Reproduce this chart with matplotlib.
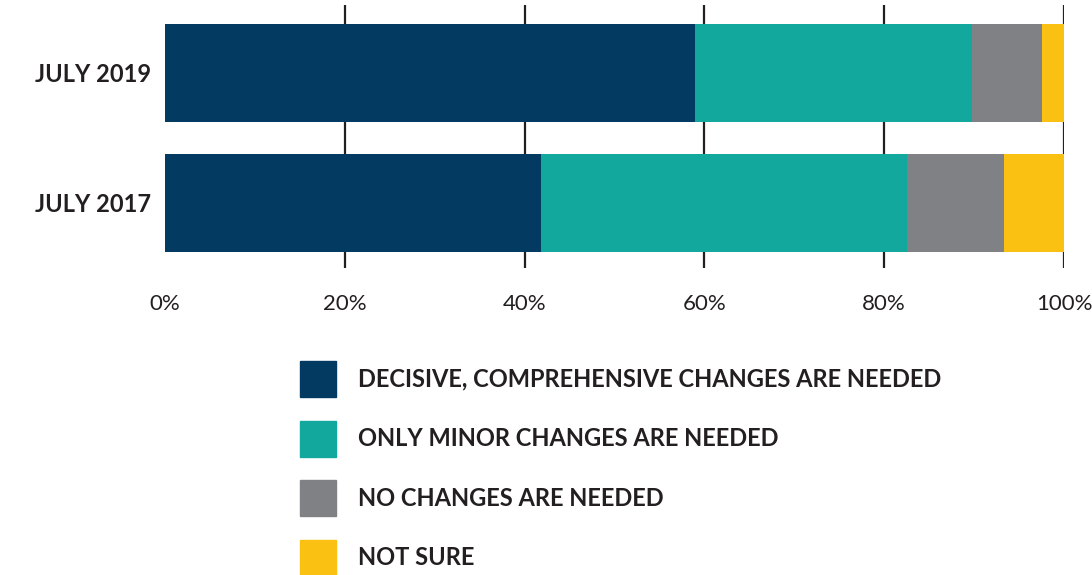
import matplotlib.pyplot as plt
from matplotlib.patches import Rectangle

# ---------------- DATA ----------------
periods = ['JULY 2017', 'JULY 2019']
categories = ['DECISIVE, COMPREHENSIVE CHANGES ARE NEEDED',
              'ONLY MINOR CHANGES ARE NEEDED',
              'NO CHANGES ARE NEEDED',
              'NOT SURE']
decisive = [41.8, 59.0]
minor = [40.7, 30.8]
no_change = [10.8, 7.8]
not_sure = [6.7, 2.4]
xticks = [0, 20, 40, 60, 80, 100]

colors = ['#023a62', '#12a89d', '#808184', '#fbc112']
text_color = '#231f20'

plt.rcParams['font.family'] = ['Lato', 'DejaVu Sans']

fig = plt.figure(figsize=(10.92, 5.75), dpi=100)
W, H = 1092, 575
ax = fig.add_axes([165 / W, 1 - 268 / H, (1064 - 165) / W, 263 / H])

# stacked bars
left = [0, 0]
for vals, col in zip([decisive, minor, no_change, not_sure], colors):
    ax.barh(range(len(periods)), vals, left=left, height=0.75, color=col, zorder=2)
    left = [l + v for l, v in zip(left, vals)]

ax.set_xlim(0, 100)
ax.set_ylim(-0.5, 1.52)
ax.set_yticks(range(len(periods)))
ax.set_yticklabels(periods, fontsize=17, fontweight='bold', color=text_color)
ax.set_xticks(xticks)
ax.set_xticklabels([f'{t}%' for t in xticks], fontsize=16, color=text_color)
ax.tick_params(axis='both', length=0)
ax.tick_params(axis='x', pad=19)
ax.tick_params(axis='y', pad=10)

# vertical gridlines (no line at 0)
for t in xticks[1:]:
    ax.axvline(t, color='#231f20', linewidth=1.6, zorder=1)

for s in ax.spines.values():
    s.set_visible(False)

# ---------------- LEGEND ----------------
sq = 36
for i, (lab, col) in enumerate(zip(categories, colors)):
    yc = 379 + i * 59.5
    fig.add_artist(Rectangle((300 / W, 1 - (yc + sq / 2) / H), sq / W, sq / H,
                             transform=fig.transFigure, color=col))
    fig.text(358 / W, 1 - yc / H, lab, fontsize=17, fontweight='bold',
             color=text_color, va='center', ha='left')

fig.savefig('out.png', dpi=100)
